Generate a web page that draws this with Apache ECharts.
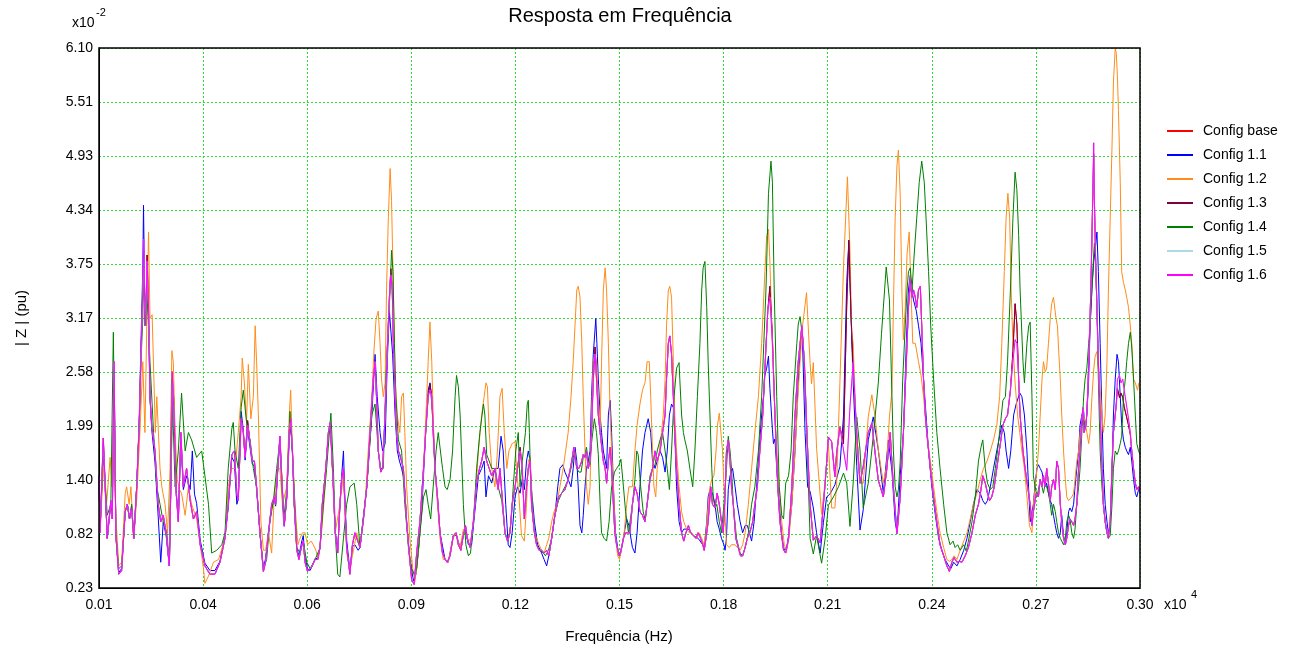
<!DOCTYPE html>
<html>
<head>
<meta charset="utf-8">
<script src="https://cdn.jsdelivr.net/npm/echarts@6/dist/echarts.min.js"></script>
<style>
html,body{margin:0;padding:0;background:#fff;}
#chart{width:1291px;height:652px;}
</style>
</head>
<body>
<div id="chart"></div>
<script>
const seriesNames = ['Config base','Config 1.1','Config 1.2','Config 1.3','Config 1.4','Config 1.5','Config 1.6'];
const xTickLabels = ['0.01','0.04','0.06','0.09','0.12','0.15','0.18','0.21','0.24','0.27','0.30'];
const yTickLabels = ['0.23','0.82','1.40','1.99','2.58','3.17','3.75','4.34','4.93','5.51','6.10'];
const freqMin = 100, freqMax = 3000;
const zMin = 0.23, zMax = 6.10;

// [frequency (Hz), |Z| (x10^-2 pu)]
const cfg16 = [[100,1.45],[103,0.83],[112,1.86],[123,0.77],[133,1.18],[137,0.98],[142,2.69],[147,0.80],[155,0.38],[163,0.42],[173,1.06],[179,1.14],[185,0.98],[191,1.10],[197,0.77],[205,1.33],[212,2.00],[217,2.77],[222,3.47],[225,4.02],[227,3.39],[230,3.08],[234,3.78],[238,3.28],[242,2.31],[247,2.00],[256,1.72],[265,1.14],[272,0.95],[279,1.02],[287,0.83],[296,0.47],[301,1.53],[304,2.58],[309,2.11],[315,1.26],[321,0.95],[328,1.92],[335,1.33],[344,1.53],[354,1.18],[363,0.98],[372,1.06],[382,0.70],[395,0.47],[409,0.38],[423,0.38],[437,0.51],
[451,0.77],[460,1.14],[470,1.68],[477,1.72],[484,1.26],[488,1.18],[496,2.07],[502,1.92],[507,1.65],[514,2.00],[521,1.80],[527,1.61],[533,1.61],[539,1.33],[549,0.80],[558,0.41],[564,0.51],[572,0.83],[581,1.14],[588,1.22],[592,1.14],[598,1.53],[604,1.88],[609,1.45],[616,0.91],[623,1.22],[630,1.92],[634,2.07],[639,1.72],[644,1.14],[651,0.64],[657,0.54],[665,0.70],[669,0.74],[674,0.51],[681,0.41],[688,0.44],[694,0.47],[702,0.54],[709,0.54],[716,0.67],[722,1.14],[730,1.45],[734,1.65],[739,1.92],[744,2.03],[748,1.72],[753,1.33],[758,0.83],[765,0.61],[771,1.14],[776,1.41],[781,1.53],[785,1.14],[790,0.67],[799,0.38],[806,0.70],[813,0.83],
[827,0.67],[836,0.95],[846,1.33],[855,1.92],[864,2.50],[869,2.69],[873,2.31],[878,1.72],[885,1.49],[890,1.53],[897,2.11],[903,2.81],[909,3.39],[913,3.63],[917,3.47],[920,2.89],[925,2.31],[929,1.92],[934,1.72],[938,1.68],[948,1.53],[957,0.95],[964,0.61],[971,0.32],[978,0.27],[985,0.61],[994,0.95],[1004,1.53],[1010,1.92],[1017,2.31],[1022,2.38],[1027,2.31],[1031,1.92],[1036,1.53],[1043,1.22],[1050,0.83],[1057,0.61],[1064,0.54],[1070,0.51],[1078,0.58],[1087,0.80],[1095,0.83],[1101,0.70],[1108,0.64],[1115,0.80],[1121,0.91],[1126,0.77],[1134,0.67],[1143,0.95],[1152,1.37],[1160,1.53],[1166,1.61],[1173,1.76],[1180,1.61],[1187,1.53],[1194,1.45],
[1203,1.53],[1212,1.30],[1217,1.53],[1223,1.22],[1231,0.83],[1238,0.74],[1245,0.83],[1251,1.14],[1259,1.33],[1266,1.53],[1273,1.72],[1279,1.53],[1285,0.98],[1291,1.33],[1296,1.53],[1301,1.61],[1305,1.14],[1313,0.83],[1319,0.70],[1326,0.64],[1333,0.64],[1340,0.61],[1347,0.64],[1353,0.58],[1361,0.77],[1370,1.02],[1380,1.22],[1389,1.26],[1398,1.30],[1407,1.41],[1417,1.61],[1423,1.76],[1431,1.53],[1437,1.53],[1445,1.61],[1449,1.68],[1454,1.65],[1458,1.72],[1463,1.53],[1468,1.61],[1472,1.92],[1477,2.50],[1482,2.77],[1486,2.50],[1491,2.11],[1496,1.92],[1500,1.92],[1505,1.61],[1510,1.53],[1514,1.37],[1519,1.61],[1524,1.76],[1528,1.53],[1533,1.14],[1537,0.83],[1542,0.70],[1549,0.58],[1554,0.64],[1561,0.77],[1567,0.83],
[1579,0.83],[1586,1.14],[1593,1.33],[1599,1.26],[1607,1.06],[1614,1.02],[1621,0.95],[1627,1.14],[1635,1.41],[1642,1.53],[1649,1.72],[1655,1.61],[1663,1.72],[1670,1.92],[1677,2.11],[1681,2.50],[1686,2.89],[1690,2.97],[1695,2.77],[1700,2.31],[1704,1.92],[1709,1.53],[1716,1.14],[1723,0.83],[1729,0.74],[1735,0.83],[1742,0.91],[1748,0.83],[1756,0.80],[1763,0.77],[1769,0.83],[1776,0.77],[1782,0.70],[1786,0.64],[1791,0.77],[1797,0.95],[1804,1.33],[1809,1.14],[1816,1.10],[1822,1.26],[1828,1.14],[1834,0.95],[1839,0.83],[1844,1.22],[1848,1.72],[1853,1.84],[1858,1.61],[1862,1.33],[1867,1.14],[1874,0.77],[1881,0.67],[1887,0.58],[1893,0.58],[1900,0.67],[1906,0.77],[1913,0.83],[1921,0.95],[1927,1.14],[1934,1.33],[1941,1.72],[1949,2.11],
[1956,2.69],[1963,3.24],[1969,3.39],[1976,2.89],[1983,2.11],[1991,1.33],[1997,0.95],[2007,0.64],[2013,0.61],[2021,0.77],[2030,1.33],[2039,2.11],[2048,2.69],[2058,3.08],[2065,2.69],[2072,1.92],[2081,1.14],[2090,0.75],[2099,0.80],[2109,0.72],[2123,1.37],[2132,1.87],[2141,1.82],[2150,1.44],[2155,1.70],[2164,1.98],[2174,1.73],[2183,1.51],[2192,2.20],[2201,2.68],[2211,1.90],[2220,1.37],[2229,1.55],[2243,1.92],[2253,2.02],[2262,1.70],[2271,1.40],[2285,1.22],[2294,1.50],[2304,1.92],[2313,1.33],[2323,0.82],[2332,1.22],
[2341,1.92],[2349,2.69],[2355,3.28],[2360,3.59],[2365,3.39],[2369,3.47],[2374,3.39],[2378,3.28],[2383,3.47],[2388,3.51],[2392,3.08],[2397,2.50],[2402,2.11],[2406,1.92],[2416,1.53],[2425,1.22],[2434,0.95],[2443,0.70],[2453,0.58],[2462,0.47],[2469,0.41],[2476,0.51],[2482,0.56],[2490,0.51],[2497,0.52],[2504,0.51],[2513,0.58],[2522,0.67],[2532,0.83],[2541,1.02],[2550,1.14],[2557,1.30],[2562,1.45],[2569,1.37],[2575,1.26],[2581,1.18],[2587,1.22],[2594,1.33],[2601,1.53],[2611,1.80],[2618,2.00],[2625,2.07],[2631,2.11],[2639,2.38],[2646,2.69],[2652,2.93],[2657,2.89],[2662,2.50],[2666,2.11],[2674,1.72],[2680,1.53],[2687,1.33],
[2694,1.14],[2699,0.91],[2703,1.06],[2711,1.26],[2717,1.22],[2722,1.41],[2727,1.33],[2731,1.45],[2736,1.33],[2740,1.53],[2745,1.37],[2750,1.18],[2754,1.33],[2759,1.41],[2764,1.30],[2768,1.61],[2773,1.53],[2778,1.14],[2782,0.95],[2787,0.77],[2792,0.70],[2796,0.77],[2801,0.91],[2805,0.98],[2810,0.95],[2815,0.91],[2819,0.98],[2824,1.14],[2829,1.53],[2833,1.72],[2838,2.07],[2841,2.19],[2844,1.92],[2850,2.00],[2854,2.31],[2859,2.89],[2863,3.47],[2866,4.02],[2869,4.64],[2871,5.07],[2873,4.44],[2876,3.86],[2880,3.28],[2884,2.69],[2889,2.11],[2894,1.53],[2898,1.14],[2903,0.95],[2908,0.83],[2912,0.77],[2917,0.95],[2922,1.53],[2926,1.92],[2931,2.11],[2934,2.23],[2937,2.50],[2943,2.54],[2947,2.46],[2952,2.50],[2956,2.38],[2962,2.23],[2968,2.07],[2973,1.92],[2977,1.72],[2982,1.53],[2987,1.37],[2991,1.30],[2996,1.33],[3000,1.26]];

const cfg13 = [[100,1.45],[103,0.83],[112,1.86],[123,0.77],[133,1.18],[137,0.98],[142,2.69],[147,0.80],[155,0.38],[163,0.42],[173,1.06],[179,1.14],[185,0.98],[191,1.10],[197,0.77],[205,1.33],[212,2.00],[217,2.77],[222,3.47],[225,3.90],[227,3.39],[230,3.08],[234,3.85],[238,3.28],[242,2.31],[247,2.00],[256,1.72],[265,1.14],[272,0.95],[279,1.02],[287,0.83],[296,0.47],[301,1.53],[304,2.58],[309,2.11],[315,1.26],[321,0.95],[328,1.92],[335,1.33],[344,1.53],[354,1.18],[363,0.98],[372,1.06],[382,0.70],[395,0.47],[409,0.38],[423,0.38],[437,0.51],
[451,0.77],[460,1.14],[470,1.68],[477,1.72],[484,1.26],[488,1.18],[496,2.07],[502,1.92],[507,1.65],[514,2.05],[521,1.80],[527,1.61],[533,1.61],[539,1.33],[549,0.80],[558,0.41],[564,0.51],[572,0.83],[581,1.14],[588,1.22],[592,1.14],[598,1.53],[604,1.88],[609,1.45],[616,0.91],[623,1.22],[630,1.92],[634,2.07],[639,1.72],[644,1.14],[651,0.64],[657,0.54],[665,0.70],[669,0.74],[674,0.51],[681,0.41],[688,0.44],[694,0.47],[702,0.54],[709,0.54],[716,0.67],[722,1.14],[730,1.45],[734,1.65],[739,1.92],[744,2.03],[748,1.72],[753,1.33],[758,0.83],[765,0.61],[771,1.14],[776,1.41],[781,1.53],[785,1.14],[790,0.67],[799,0.38],[806,0.70],[813,0.83],
[827,0.67],[836,0.95],[846,1.33],[855,1.92],[864,2.50],[869,2.69],[873,2.31],[878,1.72],[885,1.49],[890,1.53],[897,2.11],[903,2.81],[909,3.39],[913,3.70],[917,3.47],[920,2.89],[925,2.31],[929,1.92],[934,1.72],[938,1.68],[948,1.53],[957,0.95],[964,0.61],[971,0.32],[978,0.27],[985,0.61],[994,0.95],[1004,1.53],[1010,1.92],[1017,2.31],[1022,2.45],[1027,2.31],[1031,1.92],[1036,1.53],[1043,1.22],[1050,0.83],[1057,0.61],[1064,0.54],[1070,0.51],[1078,0.58],[1087,0.80],[1095,0.83],[1101,0.70],[1108,0.64],[1115,0.80],[1121,0.91],[1126,0.77],[1134,0.67],[1143,0.95],[1152,1.37],[1160,1.53],[1166,1.61],[1173,1.76],[1180,1.61],[1187,1.53],[1194,1.45],
[1203,1.53],[1212,1.30],[1217,1.53],[1223,1.22],[1231,0.83],[1238,0.74],[1245,0.83],[1251,1.14],[1259,1.33],[1266,1.53],[1273,1.76],[1279,1.53],[1285,0.98],[1291,1.33],[1296,1.53],[1301,1.61],[1305,1.14],[1313,0.83],[1319,0.70],[1326,0.64],[1333,0.64],[1340,0.61],[1347,0.64],[1353,0.58],[1361,0.77],[1370,1.02],[1380,1.22],[1389,1.26],[1398,1.30],[1407,1.41],[1417,1.61],[1423,1.76],[1431,1.53],[1437,1.53],[1445,1.61],[1449,1.68],[1454,1.65],[1458,1.72],[1463,1.53],[1468,1.61],[1472,1.92],[1477,2.50],[1482,2.85],[1486,2.50],[1491,2.11],[1496,1.92],[1500,1.92],[1505,1.61],[1510,1.53],[1514,1.37],[1519,1.61],[1524,1.76],[1528,1.53],[1533,1.14],[1537,0.83],[1542,0.70],[1549,0.58],[1554,0.64],[1561,0.77],[1567,0.83],
[1579,0.83],[1586,1.14],[1593,1.33],[1599,1.26],[1607,1.06],[1614,1.02],[1621,0.95],[1627,1.14],[1635,1.41],[1642,1.53],[1649,1.72],[1655,1.61],[1663,1.72],[1670,1.92],[1677,2.11],[1681,2.50],[1686,2.89],[1690,2.97],[1695,2.77],[1700,2.31],[1704,1.92],[1709,1.53],[1716,1.14],[1723,0.83],[1729,0.74],[1735,0.83],[1742,0.91],[1748,0.83],[1756,0.80],[1763,0.77],[1769,0.83],[1776,0.77],[1782,0.70],[1786,0.64],[1791,0.77],[1797,0.95],[1804,1.33],[1809,1.14],[1816,1.10],[1822,1.26],[1828,1.14],[1834,0.95],[1839,0.83],[1844,1.22],[1848,1.72],[1853,1.84],[1858,1.61],[1862,1.33],[1867,1.14],[1874,0.77],[1881,0.67],[1887,0.58],[1893,0.58],[1900,0.67],[1906,0.77],[1913,0.83],[1921,0.95],[1927,1.14],[1934,1.33],[1941,1.72],[1949,2.11],
[1956,2.69],[1963,3.24],[1969,3.51],[1976,2.95],[1983,2.11],[1991,1.33],[1997,0.95],[2007,0.64],[2013,0.61],[2021,0.77],[2030,1.33],[2039,2.11],[2048,2.69],[2058,3.08],[2065,2.69],[2072,1.92],[2081,1.14],[2090,0.75],[2099,0.80],[2109,0.72],[2123,1.37],[2132,1.87],[2141,1.82],[2150,1.44],[2155,1.70],[2164,1.98],[2174,1.80],[2183,3.30],[2189,4.01],[2195,3.20],[2201,2.60],[2211,1.90],[2220,1.37],[2229,1.55],[2243,1.92],[2253,2.02],[2262,1.70],[2271,1.40],[2285,1.22],[2294,1.50],[2304,1.92],[2313,1.33],[2323,0.82],[2332,1.22],
[2341,1.92],[2349,2.69],[2355,3.28],[2360,3.55],[2365,3.39],[2369,3.47],[2374,3.39],[2378,3.28],[2383,3.47],[2388,3.51],[2392,3.08],[2397,2.50],[2402,2.11],[2406,1.92],[2416,1.53],[2425,1.22],[2434,0.95],[2443,0.70],[2453,0.58],[2462,0.47],[2469,0.41],[2476,0.51],[2482,0.56],[2490,0.51],[2497,0.52],[2504,0.51],[2513,0.58],[2522,0.67],[2532,0.83],[2541,1.02],[2550,1.14],[2557,1.30],[2562,1.45],[2569,1.37],[2575,1.26],[2581,1.18],[2587,1.22],[2594,1.33],[2601,1.53],[2611,1.80],[2618,2.00],[2625,2.07],[2631,2.11],[2639,2.38],[2646,2.80],[2652,3.32],[2657,3.10],[2662,2.50],[2666,2.11],[2674,1.72],[2680,1.53],[2687,1.33],
[2694,1.14],[2699,0.91],[2703,1.06],[2711,1.26],[2717,1.22],[2722,1.41],[2727,1.33],[2731,1.45],[2736,1.33],[2740,1.53],[2745,1.37],[2750,1.18],[2754,1.33],[2759,1.41],[2764,1.30],[2768,1.61],[2773,1.53],[2778,1.14],[2782,0.95],[2787,0.77],[2792,0.70],[2796,0.77],[2801,0.91],[2805,0.98],[2810,0.95],[2815,0.91],[2819,0.98],[2824,1.14],[2829,1.53],[2833,1.72],[2838,2.07],[2841,2.19],[2844,1.92],[2850,2.00],[2854,2.31],[2859,2.89],[2863,3.47],[2866,4.02],[2869,4.60],[2871,4.95],[2873,4.44],[2876,3.86],[2880,3.28],[2884,2.69],[2889,2.11],[2894,1.53],[2898,1.14],[2903,0.95],[2908,0.83],[2912,0.77],[2917,0.95],[2922,1.53],[2926,1.92],[2931,2.11],[2934,2.23],[2937,2.40],[2943,2.30],[2947,2.35],[2952,2.30],[2956,2.20],[2962,2.10],[2968,2.00],[2973,1.90],[2977,1.72],[2982,1.53],[2987,1.37],[2991,1.30],[2996,1.33],[3000,1.26]];

const cfgBase = cfg13;
const cfg15 = cfg16;

const cfg11 = [[100,1.45],[103,0.85],[112,1.80],[123,0.77],[133,1.15],[137,1.00],[142,2.60],[147,0.80],[155,0.40],[163,0.44],[173,1.06],[179,1.14],[185,0.98],[191,1.12],[197,0.77],[205,1.33],[212,2.05],[217,2.90],[222,3.70],[224,4.39],[227,3.50],[230,3.10],[234,3.60],[238,3.20],[242,2.30],[247,1.95],[256,1.60],[265,1.00],[272,0.51],[279,0.95],[287,0.80],[296,0.47],[301,1.50],[305,2.34],[309,2.30],[315,1.30],[321,0.98],[328,1.85],[335,1.30],[344,1.45],[354,1.30],[360,1.72],[366,1.25],[372,1.15],[382,0.75],[395,0.50],[409,0.42],[423,0.42],[437,0.52],
[451,0.80],[460,1.10],[470,1.65],[477,1.60],[484,1.14],[488,1.20],[496,2.15],[502,1.95],[507,1.62],[514,1.95],[521,1.75],[527,1.58],[533,1.55],[539,1.30],[549,0.80],[558,0.44],[564,0.55],[572,0.83],[581,1.10],[588,1.20],[592,1.12],[598,1.50],[604,1.85],[609,1.42],[616,0.90],[623,1.20],[630,1.85],[634,2.00],[639,1.70],[644,1.12],[651,0.66],[657,0.58],[665,0.74],[669,0.80],[674,0.56],[681,0.44],[688,0.42],[694,0.47],[702,0.55],[709,0.55],[716,0.68],[722,1.10],[730,1.45],[734,1.62],[739,1.90],[744,2.00],[748,1.75],[753,1.30],[758,0.85],[765,0.64],[771,1.10],[776,1.45],[781,1.72],[785,1.20],[790,0.75],[799,0.42],[806,0.68],[813,0.70],[822,0.64],
[827,0.67],[846,1.33],[860,2.11],[869,2.77],[875,2.31],[883,1.92],[890,1.72],[897,1.80],[903,2.69],[909,3.24],[913,3.24],[918,2.77],[925,2.11],[931,1.72],[937,1.61],[943,1.53],[950,1.41],[957,0.95],[966,0.54],[976,0.31],[983,0.38],[990,0.64],[999,1.06],[1005,1.53],[1011,2.00],[1017,2.38],[1022,2.46],[1030,2.11],[1036,1.53],[1050,0.83],[1064,0.54],[1073,0.51],[1087,0.80],[1096,0.80],[1106,0.67],[1120,0.87],[1129,0.70],[1138,0.70],[1147,1.06],[1157,1.45],[1166,1.53],[1173,1.61],[1178,1.22],[1185,1.45],[1194,1.37],
[1203,1.53],[1212,1.53],[1220,1.88],[1226,1.72],[1233,1.14],[1240,0.70],[1245,0.67],[1251,0.83],[1259,1.22],[1266,1.33],[1273,1.26],[1279,1.41],[1285,1.30],[1291,1.61],[1296,1.72],[1301,1.61],[1305,1.30],[1313,0.95],[1322,0.70],[1333,0.61],[1340,0.54],[1347,0.47],[1353,0.58],[1361,0.77],[1370,1.02],[1378,1.33],[1384,1.53],[1392,1.57],[1398,1.49],[1407,1.41],[1415,1.33],[1421,1.53],[1426,1.76],[1431,1.61],[1435,1.33],[1440,0.91],[1445,0.83],[1449,1.02],[1454,1.33],[1458,1.53],[1463,1.61],[1468,1.72],[1472,2.31],[1477,2.77],[1484,3.16],[1487,2.89],[1491,2.50],[1496,2.11],[1500,1.92],[1505,1.72],[1514,1.53],[1519,2.11],[1524,2.27],[1528,1.92],[1533,1.33],[1539,0.83],[1547,0.61],[1552,0.58],[1558,0.70],[1565,0.87],[1570,0.98],[1576,0.91],
[1586,0.67],[1593,0.61],[1599,0.83],[1607,1.33],[1614,1.72],[1621,1.92],[1630,2.07],[1637,1.92],[1642,1.61],[1649,1.53],[1655,1.61],[1663,1.72],[1670,1.65],[1677,1.49],[1683,1.72],[1689,2.11],[1695,2.23],[1700,2.19],[1704,1.92],[1709,1.33],[1716,0.95],[1723,0.83],[1729,0.87],[1742,0.87],[1756,0.80],[1769,0.77],[1782,0.70],[1786,0.67],[1793,0.95],[1797,1.22],[1802,1.30],[1809,1.26],[1816,1.14],[1822,0.95],[1828,0.87],[1834,0.77],[1841,0.70],[1844,0.64],[1848,0.77],[1853,1.30],[1858,1.45],[1865,1.53],[1872,1.33],[1878,1.14],[1886,0.95],[1893,0.83],[1900,0.91],[1906,0.91],[1912,0.83],[1918,0.74],[1925,0.95],[1932,1.33],[1939,1.72],[1946,2.11],[1951,2.31],[1955,2.54],
[1960,2.62],[1965,2.75],[1969,2.40],[1976,1.95],[1979,1.80],[1983,1.85],[1991,1.35],[2002,0.80],[2009,0.64],[2016,0.67],[2022,0.83],[2030,1.14],[2039,1.72],[2048,2.46],[2056,2.97],[2060,2.89],[2067,1.92],[2074,1.33],[2081,1.28],[2090,1.10],[2099,0.83],[2109,0.61],[2118,0.94],[2127,1.22],[2136,1.25],[2150,1.35],[2164,1.55],[2174,2.10],[2183,3.55],[2189,4.01],[2195,3.18],[2201,2.46],[2211,1.55],[2220,0.86],[2229,1.08],[2243,1.84],[2257,2.09],[2271,1.73],[2285,1.26],[2299,1.84],[2309,1.50],[2318,0.95],[2323,0.83],[2332,1.45],
[2341,1.92],[2349,2.89],[2355,3.47],[2360,3.63],[2365,3.47],[2369,3.36],[2377,3.24],[2383,3.08],[2390,2.89],[2397,2.50],[2404,2.11],[2411,1.72],[2420,1.33],[2430,1.02],[2439,0.77],[2448,0.64],[2457,0.54],[2467,0.47],[2473,0.44],[2481,0.51],[2490,0.47],[2499,0.54],[2509,0.64],[2518,0.77],[2527,0.95],[2536,1.14],[2546,1.30],[2555,1.26],[2562,1.18],[2569,1.14],[2575,1.18],[2583,1.33],[2592,1.53],[2601,1.72],[2611,1.92],[2615,2.00],[2622,1.92],[2627,1.72],[2634,1.53],[2640,1.72],[2648,2.11],[2655,2.23],[2665,2.35],[2671,2.31],[2678,2.11],[2685,1.72],
[2694,0.95],[2699,0.95],[2703,1.14],[2708,1.37],[2713,1.53],[2717,1.57],[2722,1.53],[2727,1.49],[2731,1.41],[2736,1.33],[2740,1.37],[2745,1.26],[2750,1.18],[2754,1.14],[2759,1.02],[2764,0.91],[2768,0.83],[2773,0.77],[2778,0.83],[2782,1.02],[2787,0.80],[2792,0.70],[2796,0.83],[2801,1.06],[2805,1.10],[2810,1.06],[2815,1.14],[2819,1.33],[2824,1.53],[2829,1.72],[2833,2.00],[2838,2.11],[2843,2.15],[2847,1.96],[2852,2.11],[2857,2.50],[2861,3.08],[2866,3.47],[2871,3.78],[2875,3.90],[2880,4.10],[2884,3.67],[2889,2.89],[2894,2.11],[2898,1.53],[2903,1.14],[2908,0.95],[2912,0.83],[2917,0.91],[2922,1.53],[2926,2.11],[2931,2.50],[2936,2.77],[2940,2.69],[2945,2.31],[2949,2.00],[2954,1.84],[2959,1.76],[2963,1.72],[2968,1.68],[2973,1.76],[2977,1.61],[2982,1.41],[2987,1.26],[2991,1.22],[2996,1.30],[3000,1.33]];

const cfg12 = [[100,1.40],[103,0.83],[112,1.53],[121,1.14],[131,1.65],[136,1.33],[140,1.92],[147,1.02],[155,0.47],[163,0.51],[173,1.26],[177,1.33],[184,1.14],[189,1.33],[196,0.77],[205,1.18],[214,1.92],[222,2.69],[228,1.92],[233,3.08],[238,4.10],[242,3.16],[248,3.20],[253,2.50],[257,1.92],[261,2.31],[265,2.31],[270,1.53],[275,1.33],[284,1.14],[291,0.83],[298,1.53],[303,2.81],[307,2.69],[312,1.92],[318,1.41],[324,1.30],[330,1.26],[340,1.02],[349,1.33],[358,1.14],[372,0.98],[391,0.44],[395,0.28],[405,0.36],[419,0.51],[433,0.54],
[451,0.77],[460,1.33],[470,1.53],[479,1.53],[488,1.92],[496,2.31],[499,2.73],[505,2.46],[511,2.03],[516,2.66],[523,2.07],[530,2.31],[535,3.08],[539,2.69],[544,2.11],[551,0.95],[558,0.64],[564,0.64],[572,0.83],[581,0.61],[588,1.22],[598,1.53],[604,1.53],[611,1.14],[616,1.14],[623,1.33],[630,2.11],[634,2.38],[639,1.72],[646,1.14],[654,0.70],[660,0.77],[667,0.83],[674,0.83],[681,0.70],[691,0.74],[697,0.70],[704,0.64],[711,0.54],[720,0.83],[730,1.33],[739,1.92],[746,1.92],[750,1.53],[758,0.83],[771,1.14],[781,1.45],[790,0.61],[799,0.44],[809,0.64],[818,0.83],
[827,0.67],[841,1.14],[850,1.72],[860,2.31],[866,2.81],[872,3.16],[878,3.24],[883,2.89],[887,2.50],[892,2.31],[897,2.46],[901,3.47],[906,4.25],[911,4.79],[915,4.44],[920,3.47],[925,2.50],[931,2.11],[938,1.92],[943,2.31],[948,2.35],[952,1.92],[957,1.33],[966,0.77],[974,0.44],[980,0.30],[987,0.51],[994,0.83],[1004,1.53],[1013,2.31],[1017,2.69],[1022,3.12],[1027,2.69],[1031,2.11],[1036,1.53],[1043,1.14],[1050,0.77],[1059,0.54],[1067,0.54],[1073,0.51],[1082,0.70],[1092,0.83],[1098,0.77],[1106,0.67],[1115,0.87],[1122,0.83],[1129,0.74],[1138,0.77],[1147,1.14],[1157,1.72],[1166,2.11],[1173,2.31],[1178,2.46],[1182,2.42],[1187,1.92],[1194,1.53],
[1203,1.33],[1210,1.72],[1217,2.31],[1223,2.40],[1229,1.92],[1236,1.53],[1242,1.72],[1251,1.80],[1259,1.82],[1263,1.53],[1270,1.22],[1277,0.80],[1285,0.74],[1291,1.14],[1296,1.61],[1301,1.65],[1307,1.14],[1313,0.83],[1319,0.77],[1326,0.70],[1333,0.64],[1340,0.61],[1347,0.70],[1353,0.77],[1361,0.95],[1368,1.06],[1375,1.14],[1384,1.33],[1393,1.53],[1400,1.72],[1407,1.92],[1415,2.31],[1421,2.69],[1426,3.08],[1431,3.47],[1435,3.51],[1440,3.39],[1445,2.89],[1449,2.31],[1454,1.72],[1458,1.33],[1463,1.14],[1468,1.33],[1472,2.11],[1477,2.69],[1482,2.77],[1486,2.69],[1491,2.31],[1496,1.92],[1500,2.69],[1505,3.47],[1510,3.71],[1514,3.47],[1519,2.89],[1524,2.11],[1528,1.72],[1533,1.33],[1539,0.77],[1545,0.58],[1550,0.54],[1556,0.67],[1563,0.83],[1570,1.14],[1576,1.33],
[1586,1.33],[1593,1.72],[1599,2.00],[1607,2.23],[1614,2.38],[1621,2.46],[1627,2.69],[1633,2.69],[1637,2.31],[1642,1.72],[1646,1.33],[1651,1.22],[1655,1.53],[1661,1.72],[1667,1.92],[1672,2.11],[1677,2.50],[1681,3.08],[1686,3.47],[1690,3.51],[1695,3.39],[1700,2.69],[1704,2.11],[1709,1.72],[1716,1.33],[1723,1.06],[1729,0.95],[1737,0.87],[1744,0.83],[1751,0.83],[1757,0.80],[1765,0.77],[1772,0.83],[1779,0.77],[1785,0.70],[1791,0.83],[1797,1.14],[1802,1.33],[1807,1.41],[1813,1.45],[1819,1.72],[1823,2.00],[1828,2.13],[1832,2.11],[1837,1.72],[1841,1.33],[1845,0.95],[1848,0.70],[1856,0.67],[1862,0.70],[1872,0.70],[1878,0.67],[1886,0.64],[1893,0.70],[1900,0.83],[1909,1.14],[1918,1.53],[1927,1.92],[1937,2.31],[1946,2.89],[1955,3.67],[1960,4.06],
[1965,4.13],[1969,3.78],[1974,3.08],[1981,2.31],[1988,1.72],[1995,1.33],[2002,0.95],[2009,0.70],[2016,0.64],[2022,0.77],[2030,1.14],[2039,1.72],[2047,2.31],[2053,2.69],[2060,3.08],[2071,3.44],[2081,2.67],[2085,2.45],[2090,2.68],[2099,1.75],[2113,1.03],[2123,1.40],[2132,1.80],[2141,1.10],[2150,1.10],[2155,1.37],[2164,2.46],[2174,3.72],[2185,4.70],[2192,3.90],[2197,3.00],[2201,2.89],[2211,1.75],[2220,1.37],[2229,1.37],[2243,2.09],[2253,2.33],[2262,2.09],[2271,1.73],[2285,1.37],[2294,1.55],[2302,2.09],[2309,2.38],[2313,3.28],[2318,4.25],[2323,4.83],[2327,4.99],
[2332,4.50],[2337,3.40],[2341,2.93],[2346,3.28],[2351,3.86],[2357,4.10],[2362,3.47],[2367,2.89],[2374,2.89],[2383,2.69],[2390,2.54],[2397,2.31],[2406,1.92],[2416,1.61],[2425,1.33],[2434,1.06],[2443,0.83],[2453,0.67],[2462,0.54],[2469,0.52],[2476,0.54],[2482,0.58],[2490,0.54],[2499,0.64],[2509,0.74],[2518,0.83],[2527,0.98],[2536,1.14],[2546,1.26],[2555,1.41],[2564,1.53],[2574,1.61],[2583,1.72],[2592,1.84],[2601,2.00],[2609,2.31],[2615,2.89],[2622,3.67],[2627,4.25],[2632,4.52],[2637,4.25],[2641,3.47],[2646,2.89],[2652,2.46],[2659,2.11],[2665,1.92],[2671,1.72],[2678,1.53],[2685,1.22],[2692,0.91],
[2699,0.83],[2703,1.14],[2708,1.33],[2713,1.53],[2717,1.72],[2722,2.11],[2727,2.50],[2731,2.69],[2736,2.58],[2740,2.62],[2745,2.89],[2750,3.16],[2754,3.32],[2759,3.39],[2762,3.39],[2766,3.16],[2770,3.08],[2774,2.77],[2778,2.50],[2782,2.11],[2787,1.72],[2792,1.41],[2796,1.22],[2801,1.18],[2810,1.22],[2815,1.26],[2819,1.41],[2824,1.61],[2829,1.72],[2833,1.92],[2838,2.00],[2843,2.11],[2847,2.03],[2852,1.92],[2857,1.80],[2861,1.92],[2866,2.30],[2871,2.60],[2875,2.75],[2880,2.80],[2884,2.60],[2889,2.40],[2894,2.11],[2898,1.92],[2903,2.11],[2908,2.69],[2912,3.47],[2917,4.25],[2922,5.03],[2926,5.73],[2931,6.10],[2934,6.04],[2937,5.80],[2940,5.42],[2945,4.64],[2949,3.67],[2954,3.55],[2959,3.47],[2963,3.39],[2968,3.28],[2973,3.08],[2977,2.89],[2982,2.50],[2987,2.46],[2989,2.46],[2993,2.38],[2997,2.46],[3000,2.46]];

const cfg14 = [[100,1.40],[103,0.83],[112,1.72],[123,1.02],[133,1.14],[140,3.01],[147,0.83],[155,0.44],[163,0.47],[173,1.06],[179,1.14],[185,0.98],[191,1.14],[197,0.77],[205,1.33],[212,2.00],[217,2.69],[222,3.16],[224,3.67],[228,3.08],[233,3.47],[238,3.08],[242,2.69],[252,1.92],[261,1.33],[270,1.14],[279,0.95],[289,0.83],[296,0.51],[303,2.50],[312,1.33],[321,1.72],[330,2.35],[340,1.72],[349,1.92],[358,1.84],[372,1.65],[386,1.72],[391,1.57],[395,1.45],[405,1.14],[414,0.61],[428,0.64],[442,0.70],
[451,0.83],[460,1.53],[470,1.96],[474,2.03],[479,1.72],[488,1.53],[496,2.19],[502,2.38],[509,2.11],[514,1.92],[521,1.84],[530,1.53],[539,1.33],[549,0.80],[558,0.44],[567,0.54],[576,0.95],[586,1.18],[595,1.53],[604,1.84],[614,0.95],[623,1.30],[632,2.15],[641,1.53],[651,0.67],[660,0.61],[669,0.74],[679,0.51],[688,0.44],[702,0.54],[716,0.67],[725,1.14],[734,1.53],[746,2.13],[753,1.53],[759,0.77],[765,0.38],[771,0.35],[781,0.77],[790,1.14],[799,1.33],[811,1.37],[818,1.14],
[827,0.67],[846,1.33],[860,2.11],[869,2.23],[878,1.72],[885,1.53],[892,1.53],[899,2.50],[906,3.08],[911,3.47],[915,3.90],[919,3.67],[923,2.89],[927,2.31],[934,1.84],[943,1.72],[952,1.14],[962,0.67],[971,0.44],[978,0.38],[985,0.44],[994,0.83],[1004,1.22],[1011,1.30],[1017,1.14],[1024,0.98],[1031,1.33],[1039,1.72],[1045,1.92],[1050,1.94],[1057,1.53],[1064,1.33],[1070,1.30],[1078,1.41],[1085,1.72],[1092,2.31],[1096,2.54],[1101,2.42],[1106,2.11],[1115,1.14],[1122,0.70],[1129,0.58],[1135,0.61],[1143,0.95],[1152,1.53],[1161,1.92],[1171,2.23],[1175,2.11],[1180,1.68],[1187,1.61],[1194,1.53],
[1203,1.53],[1212,1.33],[1222,1.18],[1231,0.83],[1240,0.74],[1248,0.95],[1254,1.33],[1261,1.72],[1268,1.92],[1273,1.33],[1277,1.53],[1282,1.72],[1288,1.92],[1293,2.23],[1296,2.27],[1299,1.92],[1303,1.33],[1310,0.95],[1319,0.70],[1328,0.64],[1338,0.61],[1344,0.58],[1352,0.64],[1361,0.77],[1370,1.02],[1380,1.18],[1389,1.26],[1398,1.33],[1407,1.41],[1415,1.53],[1421,1.65],[1426,1.72],[1431,1.53],[1437,1.49],[1443,1.49],[1449,1.65],[1454,1.68],[1458,1.76],[1463,1.61],[1468,1.57],[1472,1.80],[1480,2.07],[1486,1.92],[1491,1.68],[1496,1.14],[1500,0.83],[1507,0.77],[1514,0.74],[1521,0.95],[1528,1.33],[1536,1.49],[1542,1.53],[1549,1.57],[1554,1.63],[1561,1.33],[1567,1.06],[1575,0.83],
[1586,1.14],[1593,1.41],[1598,1.72],[1602,1.68],[1609,1.33],[1616,1.06],[1621,0.98],[1627,1.14],[1635,1.45],[1642,1.53],[1649,1.57],[1655,1.72],[1663,1.84],[1670,1.92],[1677,1.72],[1683,1.53],[1689,1.30],[1695,1.72],[1702,2.31],[1709,2.62],[1716,2.68],[1718,2.50],[1723,2.11],[1728,1.92],[1732,1.84],[1739,1.72],[1746,1.53],[1754,1.33],[1760,1.72],[1767,2.31],[1774,2.89],[1779,3.47],[1783,3.71],[1788,3.78],[1793,3.28],[1797,2.69],[1802,2.11],[1807,1.53],[1811,1.22],[1816,1.10],[1821,1.14],[1828,0.95],[1834,0.83],[1841,1.14],[1848,1.53],[1853,1.88],[1858,1.72],[1862,1.53],[1867,1.14],[1876,0.77],[1886,0.61],[1893,0.58],[1900,0.67],[1909,0.83],[1918,1.14],[1927,1.33],[1937,1.72],[1946,2.31],[1952,2.89],[1958,3.47],[1962,4.06],[1965,4.52],
[1972,4.87],[1976,4.64],[1981,3.47],[1988,2.31],[1995,1.33],[2002,1.02],[2007,0.98],[2013,1.37],[2021,1.45],[2028,1.72],[2034,2.31],[2044,2.89],[2048,3.10],[2053,3.18],[2062,2.90],[2071,2.00],[2081,0.77],[2090,0.60],[2099,0.80],[2113,0.50],[2123,0.77],[2132,1.13],[2146,1.22],[2160,1.33],[2174,1.48],[2183,1.37],[2192,0.90],[2201,1.37],[2211,2.09],[2220,1.73],[2229,1.10],[2243,1.37],[2253,1.73],[2262,2.09],[2271,2.46],[2280,3.00],[2293,3.72],[2302,3.36],[2309,2.31],[2313,1.72],[2318,1.33],[2323,1.22],[2327,1.30],
[2332,1.60],[2339,2.50],[2346,3.08],[2351,3.47],[2355,3.67],[2360,3.71],[2365,3.47],[2371,3.86],[2378,4.25],[2385,4.64],[2392,4.87],[2399,4.64],[2404,4.25],[2411,3.67],[2417,3.08],[2425,2.50],[2434,1.92],[2443,1.53],[2453,1.14],[2462,0.83],[2471,0.70],[2479,0.74],[2485,0.67],[2492,0.70],[2499,0.64],[2509,0.70],[2516,0.63],[2522,0.74],[2532,0.95],[2541,1.22],[2550,1.61],[2557,1.76],[2562,1.84],[2569,1.53],[2575,1.37],[2583,1.30],[2590,1.33],[2597,1.53],[2603,1.72],[2611,2.00],[2618,2.27],[2625,2.31],[2631,2.69],[2639,3.47],[2646,4.25],[2652,4.75],[2657,4.56],[2662,4.06],[2666,3.47],[2674,2.69],[2678,2.46],[2685,2.89],[2690,3.08],[2694,3.12],
[2699,2.31],[2703,1.45],[2708,1.33],[2713,1.22],[2717,1.30],[2722,1.41],[2727,1.33],[2731,1.26],[2736,1.37],[2740,1.33],[2745,1.26],[2750,1.14],[2754,1.02],[2759,1.14],[2764,1.06],[2768,0.95],[2773,0.83],[2778,0.77],[2782,0.74],[2787,0.70],[2792,0.77],[2796,0.95],[2801,1.02],[2805,0.98],[2810,0.83],[2815,0.77],[2819,0.87],[2824,1.14],[2829,1.33],[2833,1.53],[2838,1.92],[2843,2.31],[2847,2.50],[2852,2.62],[2857,2.89],[2861,3.08],[2866,3.47],[2871,3.86],[2873,3.98],[2877,3.67],[2880,3.28],[2884,2.50],[2889,1.72],[2894,1.33],[2898,1.14],[2903,0.95],[2908,0.83],[2912,0.77],[2917,0.80],[2922,1.14],[2926,1.53],[2931,1.72],[2936,1.68],[2940,1.72],[2945,1.80],[2949,1.88],[2954,2.31],[2959,2.50],[2963,2.69],[2968,2.89],[2973,3.01],[2977,2.85],[2982,2.50],[2987,2.11],[2991,1.80],[2996,1.72],[3000,1.68]];

const seriesData = [cfgBase, cfg11, cfg12, cfg13, cfg14, cfg15, cfg16];
const seriesColors = ['#ff0000','#0000ff','#ff8c1a','#800040','#008000','#add8e6','#ff00ff'];

const FONT = '"Liberation Sans", Arial, Helvetica, sans-serif';
const gridGreen = '#33dd33';

const chart = echarts.init(document.getElementById('chart'), null, {renderer: 'canvas'});
const option = {
  backgroundColor: '#ffffff',
  animation: false,
  grid: {left: 99, top: 48, width: 1041, height: 540, show: false},
  xAxis: [
    {type: 'value', min: freqMin, max: freqMax, show: false, position: 'top'},
    {type: 'value', min: 0, max: xTickLabels.length - 1, interval: 1, position: 'bottom',
     axisLine: {show: true, lineStyle: {color: '#000', width: 1}},
     axisTick: {show: false},
     axisLabel: {formatter: v => xTickLabels[v], color: '#000', fontSize: 14, fontFamily: FONT, margin: 10, showMinLabel: true, showMaxLabel: true},
     splitLine: {show: true, lineStyle: {color: gridGreen, type: [2, 2], width: 1}}}
  ],
  yAxis: [
    {type: 'value', min: zMin, max: zMax, show: false, position: 'right'},
    {type: 'value', min: 0, max: yTickLabels.length - 1, interval: 1, position: 'left',
     axisLine: {show: true, lineStyle: {color: '#000', width: 1}},
     axisTick: {show: false},
     axisLabel: {formatter: v => yTickLabels[v], color: '#000', fontSize: 14, fontFamily: FONT, margin: 6, showMinLabel: true, showMaxLabel: true},
     splitLine: {show: true, lineStyle: {color: gridGreen, type: [2, 2], width: 1}}}
  ],
  legend: {
    data: seriesNames, orient: 'vertical', left: 1162, top: 119,
    icon: 'rect', itemWidth: 26, itemHeight: 2, itemGap: 10,
    textStyle: {fontSize: 14, color: '#000', fontFamily: FONT, padding: [0, 0, 0, 5]},
    selectedMode: false
  },
  graphic: [
    {type: 'rect', z: 100, silent: true, shape: {x: 99, y: 48, width: 1041, height: 540}, style: {fill: 'none', stroke: '#000', lineWidth: 1.5}},
    {type: 'text', x: 620, y: 16, style: {text: 'Resposta em Frequência', font: '20px ' + FONT, fill: '#000', textAlign: 'center', textVerticalAlign: 'middle'}},
    {type: 'text', x: 619, y: 637, style: {text: 'Frequência (Hz)', font: '15px ' + FONT, fill: '#000', textAlign: 'center', textVerticalAlign: 'middle'}},
    {type: 'text', x: 22, y: 318, rotation: Math.PI / 2, style: {text: '| Z | (pu)', font: '15px ' + FONT, fill: '#000', textAlign: 'center', textVerticalAlign: 'middle'}},
    {type: 'text', x: 72, y: 23, style: {text: 'x10', font: '14px ' + FONT, fill: '#000', textAlign: 'left', textVerticalAlign: 'middle'}},
    {type: 'text', x: 96, y: 13, style: {text: '-2', font: '11px ' + FONT, fill: '#000', textAlign: 'left', textVerticalAlign: 'middle'}},
    {type: 'text', x: 1164, y: 605, style: {text: 'x10', font: '14px ' + FONT, fill: '#000', textAlign: 'left', textVerticalAlign: 'middle'}},
    {type: 'text', x: 1191, y: 595, style: {text: '4', font: '11px ' + FONT, fill: '#000', textAlign: 'left', textVerticalAlign: 'middle'}}
  ],
  series: seriesNames.map((name, i) => ({
    name: name, type: 'line', xAxisIndex: 0, yAxisIndex: 0,
    data: seriesData[i], showSymbol: false, symbol: 'none',
    lineStyle: {color: seriesColors[i], width: 1}, itemStyle: {color: seriesColors[i]},
    clip: true, z: 2 + i
  }))
};
chart.setOption(option);
</script>
</body>
</html>
